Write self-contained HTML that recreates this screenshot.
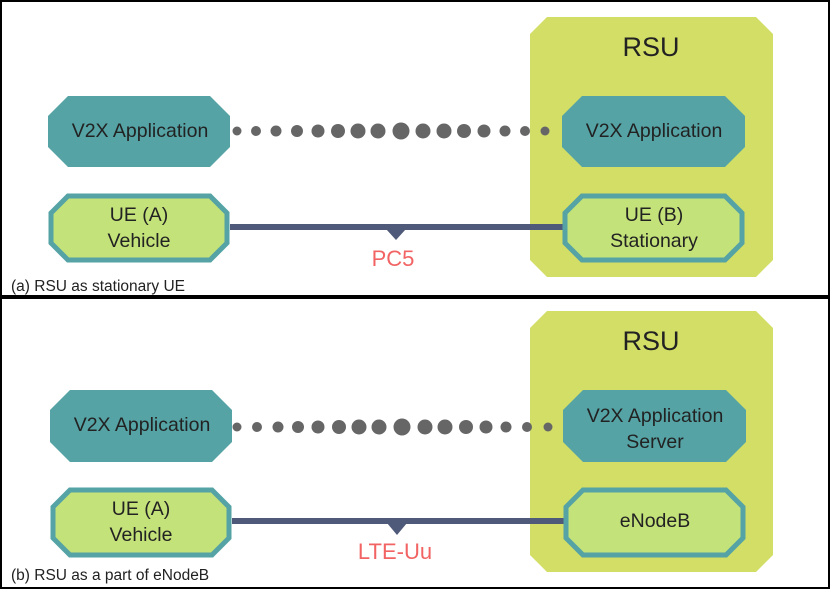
<!DOCTYPE html>
<html><head><meta charset="utf-8"><style>
html,body{margin:0;padding:0;background:#fff}
svg{display:block}
text{font-family:"Liberation Sans",sans-serif}
</style></head><body>
<svg width="830" height="589" viewBox="0 0 830 589" xmlns="http://www.w3.org/2000/svg">
<rect x="1" y="1" width="828" height="587" fill="#fff" stroke="#000" stroke-width="2"/>
<rect x="0" y="295" width="830" height="4" fill="#000"/>

<!-- Panel A -->
<polygon points="547,17 756,17 773,34 773,260 756,277 547,277 530,260 530,34" fill="#d3de66"/>
<text x="651" y="56" font-size="27" text-anchor="middle" fill="#222">RSU</text>

<polygon points="68,96 210,96 230,116 230,147 210,167 68,167 48,147 48,116" fill="#55a3a5"/>
<text x="140" y="137" font-size="19.5" text-anchor="middle" fill="#222">V2X Application</text>
<polygon points="582,96 725,96 745,116 745,147 725,167 582,167 562,147 562,116" fill="#55a3a5"/>
<text x="654" y="137" font-size="19.5" text-anchor="middle" fill="#222">V2X Application</text>

<g fill="#666">
<circle cx="237" cy="131" r="4.5"/><circle cx="256" cy="131" r="5"/><circle cx="276" cy="131" r="5.5"/><circle cx="297" cy="131" r="6"/><circle cx="318" cy="131" r="6.5"/><circle cx="338" cy="131" r="7"/><circle cx="358" cy="131" r="7.5"/><circle cx="378" cy="131" r="7.5"/><circle cx="401" cy="131" r="8.5"/><circle cx="423" cy="131" r="7.5"/><circle cx="444" cy="131" r="7.5"/><circle cx="464" cy="131" r="7"/><circle cx="484" cy="131" r="6.5"/><circle cx="505" cy="131" r="5.5"/><circle cx="525" cy="131" r="5"/><circle cx="545" cy="131" r="4.5"/>
</g>

<rect x="230" y="224" width="334" height="6" fill="#4f5a7a"/>
<polygon points="386,229 406,229 396,240" fill="#4f5a7a"/>
<text x="393" y="266" font-size="22" text-anchor="middle" fill="#f26464">PC5</text>

<polygon points="68,196 210,196 227,213 227,243 210,260 68,260 51,243 51,213" fill="#c4e27a" stroke="#55a3a5" stroke-width="5"/>
<text x="139" y="221" font-size="19.5" text-anchor="middle" fill="#222">UE (A)</text>
<text x="139" y="247" font-size="19.5" text-anchor="middle" fill="#222">Vehicle</text>
<polygon points="582,196 725,196 742,213 742,243 725,260 582,260 565,243 565,213" fill="#c4e27a" stroke="#55a3a5" stroke-width="5"/>
<text x="654" y="221" font-size="19.5" text-anchor="middle" fill="#222">UE (B)</text>
<text x="654" y="247" font-size="19.5" text-anchor="middle" fill="#222">Stationary</text>

<text x="11" y="291" font-size="15.5" fill="#222">(a) RSU as stationary UE</text>

<!-- Panel B -->
<polygon points="547,311 756,311 773,328 773,555 756,572 547,572 530,555 530,328" fill="#d3de66"/>
<text x="651" y="350" font-size="27" text-anchor="middle" fill="#222">RSU</text>

<polygon points="70,390 212,390 232,410 232,442 212,462 70,462 50,442 50,410" fill="#55a3a5"/>
<text x="142" y="431" font-size="19.5" text-anchor="middle" fill="#222">V2X Application</text>
<polygon points="583,390 726,390 746,410 746,442 726,462 583,462 563,442 563,410" fill="#55a3a5"/>
<text x="655" y="422" font-size="19.5" text-anchor="middle" fill="#222">V2X Application</text>
<text x="655" y="448" font-size="19.5" text-anchor="middle" fill="#222">Server</text>

<g fill="#666">
<circle cx="237" cy="427" r="4.5"/><circle cx="257" cy="427" r="5"/><circle cx="278" cy="427" r="5.5"/><circle cx="298" cy="427" r="6"/><circle cx="318" cy="427" r="6.5"/><circle cx="339" cy="427" r="7"/><circle cx="359" cy="427" r="7.5"/><circle cx="379" cy="427" r="7.5"/><circle cx="402" cy="427" r="8.5"/><circle cx="425" cy="427" r="7.5"/><circle cx="445" cy="427" r="7.5"/><circle cx="466" cy="427" r="7"/><circle cx="486" cy="427" r="6.5"/><circle cx="506" cy="427" r="5.5"/><circle cx="527" cy="427" r="5"/><circle cx="548" cy="427" r="4.5"/>
</g>

<rect x="232" y="518" width="334" height="6" fill="#4f5a7a"/>
<polygon points="387,523 407,523 397,535" fill="#4f5a7a"/>
<text x="395" y="559" font-size="22" text-anchor="middle" fill="#f26464">LTE-Uu</text>

<polygon points="70,490 212,490 229,507 229,538 212,555 70,555 53,538 53,507" fill="#c4e27a" stroke="#55a3a5" stroke-width="5"/>
<text x="141" y="515" font-size="19.5" text-anchor="middle" fill="#222">UE (A)</text>
<text x="141" y="541" font-size="19.5" text-anchor="middle" fill="#222">Vehicle</text>
<polygon points="583,490 726,490 743,507 743,538 726,555 583,555 566,538 566,507" fill="#c4e27a" stroke="#55a3a5" stroke-width="5"/>
<text x="655" y="527" font-size="19.5" text-anchor="middle" fill="#222">eNodeB</text>

<text x="11" y="580" font-size="15.5" fill="#222">(b) RSU as a part of eNodeB</text>
</svg>
</body></html>
